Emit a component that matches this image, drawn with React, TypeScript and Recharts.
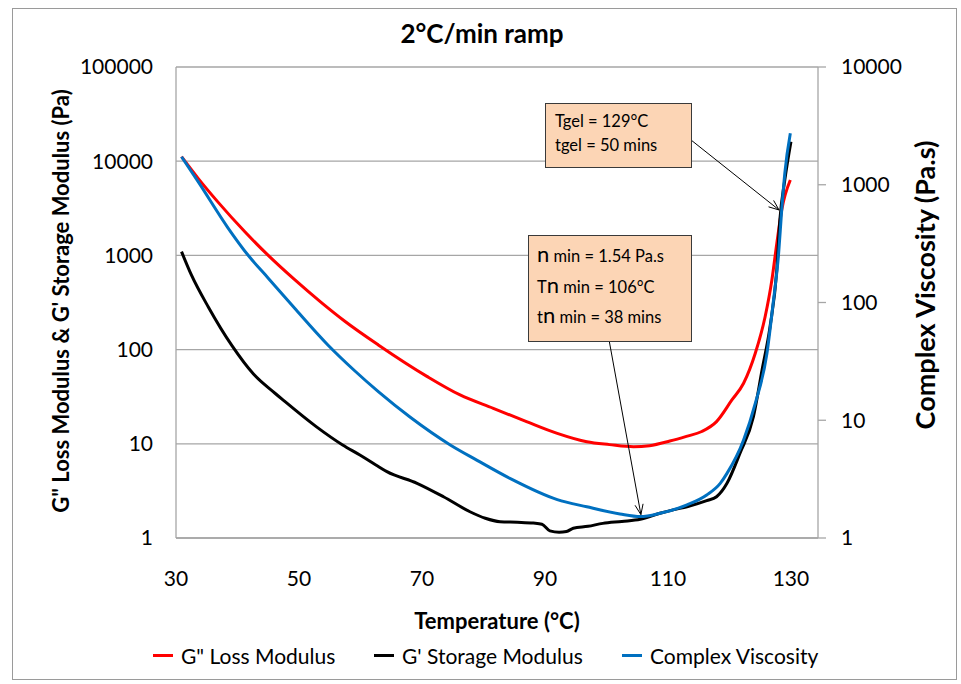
import { LineChart, Line, XAxis, YAxis, CartesianGrid, Legend, ReferenceLine } from 'recharts';

// temperature (°C)
const lossT = [30.9, 33.6, 36.8, 41.2, 45.0, 49.3, 53.6, 57.4, 62.9, 70.8, 76.2, 81.6, 87.0, 92.0, 96.8, 100.5, 104.4, 107.0, 110.3, 113.0, 115.5, 117.9, 120.4, 122.3, 124.2, 125.8, 126.9, 127.7, 128.5, 129.9];
const lossG = [11170, 6580, 3700, 1782, 1000, 552, 317, 201, 112, 52, 33.0, 23.8, 17.2, 12.9, 10.5, 9.8, 9.3, 9.55, 10.7, 12.0, 13.5, 17.2, 29.2, 43.9, 91.4, 223, 548, 1343, 3034, 6310];

const storageT = [30.9, 32.5, 35.3, 39.1, 42.6, 46.1, 47.4, 52.8, 57.1, 59.9, 62.5, 64.3, 69.2, 73.5, 77.8, 80.3, 82.7, 85.5, 88.1, 89.5, 90.8, 92.3, 93.5, 94.6, 97.0, 99.4, 102.5, 105.5, 108.7, 111.0, 113.1, 116.3, 117.9, 119.6, 121.7, 123.9, 125.3, 126.6, 127.7, 128.2, 129.0, 130.0];
const storageG = [1095, 620, 280, 110, 55, 34.4, 29.2, 15.2, 9.7, 7.6, 5.96, 5.06, 3.81, 2.74, 1.9, 1.62, 1.49, 1.47, 1.44, 1.4, 1.19, 1.15, 1.17, 1.27, 1.33, 1.43, 1.5, 1.58, 1.83, 2.0, 2.15, 2.49, 2.74, 3.81, 7.9, 19.4, 60.7, 175, 700, 2377, 6310, 16100];

const viscT = [30.9, 33.6, 38.5, 41.7, 45.0, 49.3, 54.7, 59.1, 62.9, 68.1, 74.6, 78.9, 84.3, 92.0, 96.8, 102.2, 105.5, 108.7, 113.1, 116.3, 118.5, 119.6, 122.3, 124.2, 126.1, 127.1, 128.0, 128.5, 129.0, 129.9];
const viscV = [1730, 1062, 427, 253, 161, 89.3, 43.6, 26.2, 17.5, 10.6, 6.17, 4.59, 3.21, 2.12, 1.84, 1.6, 1.52, 1.62, 1.91, 2.32, 2.91, 3.54, 6.8, 13.9, 37, 98, 262, 611, 1250, 2735];

const xTicks = [30, 50, 70, 90, 110, 130];
const modulusTicks = [1, 10, 100, 1000, 10000, 100000];
const viscTicks = [1, 10, 100, 1000, 10000];

const seriesNames = ['G" Loss Modulus', "G' Storage Modulus", 'Complex Viscosity'];
const gelNote = ['Tgel = 129°C', 'tgel = 50 mins'];
const minNote = [' min = 1.54 Pa.s', 'T', ' min = 106°C', 't', ' min = 38 mins'];

const toRows = (t: number[], v: number[]) => t.map((x, i) => ({ t: x, v: v[i] }));
const lossData = toRows(lossT, lossG);
const storageData = toRows(storageT, storageG);
const viscData = toRows(viscT, viscV);

const FONT = 'Lato, "Open Sans", sans-serif';
const GRID = '#a6a6a6';

const Arrow = (p: any) => {
  const { x1, y1, x2, y2 } = p;
  const a = Math.atan2(y2 - y1, x2 - x1);
  const len = 11;
  const s = 0.38;
  const h1 = `${x2 - len * Math.cos(a - s)},${y2 - len * Math.sin(a - s)}`;
  const h2 = `${x2 - len * Math.cos(a + s)},${y2 - len * Math.sin(a + s)}`;
  return (
    <g>
      <line x1={x1} y1={y1} x2={x2} y2={y2} stroke="#000" strokeWidth={1} />
      <polyline points={`${h1} ${x2},${y2} ${h2}`} fill="none" stroke="#000" strokeWidth={1} />
    </g>
  );
};

const legendOffsets = [0, 221, 469];

const renderLegend = (props: any) => {
  const items = [...(props.payload || [])].sort(
    (a: any, b: any) => seriesNames.indexOf(a.value) - seriesNames.indexOf(b.value)
  );
  return (
    <div style={{ position: 'relative', height: 26, fontFamily: FONT, fontSize: 21, color: '#000' }}>
      {items.map((entry: any, i: number) => (
        <div key={i} style={{ position: 'absolute', left: legendOffsets[i], top: 0, display: 'flex', alignItems: 'center', whiteSpace: 'nowrap' }}>
          <span style={{ display: 'inline-block', width: 20, height: 3, background: entry.color, marginRight: 8 }} />
          <span>{entry.value}</span>
        </div>
      ))}
    </div>
  );
};

export default function App() {
  return (
    <div style={{ position: 'absolute', left: 0, top: 0, width: 961, height: 684, background: '#fff' }}>
      <div style={{ position: 'absolute', left: 12, top: 8, width: 945, height: 672, border: '1px solid #9a9a9a', boxSizing: 'border-box' }} />
      <LineChart width={961} height={684} margin={{ top: 67, right: 63, left: 116, bottom: 106 }} style={{ position: 'absolute', left: 0, top: 0 }}>
        <CartesianGrid yAxisId="left" vertical={false} stroke={GRID} strokeWidth={1.3} />
        <XAxis
          dataKey="t"
          type="number"
          domain={[30, 134.4]}
          ticks={xTicks}
          allowDataOverflow
          height={40}
          axisLine={{ stroke: GRID, strokeWidth: 1.3 }}
          tickLine={false}
          tickSize={8}
          tickMargin={25}
          tick={{ fill: '#000', fontSize: 21, fontFamily: FONT }}
        />
        <YAxis
          yAxisId="left"
          scale="log"
          domain={[1, 100000]}
          ticks={modulusTicks}
          allowDataOverflow
          width={60}
          axisLine={{ stroke: GRID, strokeWidth: 1.3 }}
          tickLine={false}
          tickSize={6}
          tickMargin={17}
          tick={{ fill: '#000', fontSize: 21, fontFamily: FONT }}
        />
        <YAxis
          yAxisId="right"
          orientation="right"
          scale="log"
          domain={[1, 10000]}
          ticks={viscTicks}
          allowDataOverflow
          width={80}
          axisLine={{ stroke: GRID, strokeWidth: 1.3 }}
          tickLine={{ stroke: GRID, strokeWidth: 1.3 }}
          tickSize={8}
          tickMargin={15}
          tick={{ fill: '#000', fontSize: 21, fontFamily: FONT }}
        />
        <Legend
          layout="horizontal"
          verticalAlign="middle"
          content={renderLegend}
          wrapperStyle={{ left: 153, top: 643, width: 720, height: 26 }}
        />
        <Line yAxisId="left" data={lossData} dataKey="v" name={seriesNames[0]} type="monotone" stroke="#ff0000" strokeWidth={3} dot={false} isAnimationActive={false} />
        <Line yAxisId="left" data={storageData} dataKey="v" name={seriesNames[1]} type="monotone" stroke="#000000" strokeWidth={3} dot={false} isAnimationActive={false} />
        <Line yAxisId="right" data={viscData} dataKey="v" name={seriesNames[2]} type="monotone" stroke="#0070c0" strokeWidth={3} dot={false} isAnimationActive={false} />
        <ReferenceLine yAxisId="left" segment={[{ x: 113.75, y: 16800 }, { x: 128.07, y: 3034 }]} shape={Arrow} />
        <ReferenceLine yAxisId="right" segment={[{ x: 100.47, y: 46.5 }, { x: 105.6, y: 1.58 }]} shape={Arrow} />
      </LineChart>
      <svg width={961} height={684} style={{ position: 'absolute', left: 0, top: 0, pointerEvents: 'none', fontFamily: FONT }}>
        <text x={482} y={43} textAnchor="middle" fontSize={26} fontWeight="bold">2°C/min ramp</text>
        <text x={497} y={629} textAnchor="middle" fontSize={22} fontWeight="bold">Temperature (°C)</text>
        <text x={69} y={301} textAnchor="middle" fontSize={22} fontWeight="bold" transform="rotate(-90 69 301)">
          G" Loss Modulus &amp; G' Storage Modulus (Pa)
        </text>
        <text x={935} y={285} textAnchor="middle" fontSize={27} fontWeight="bold" transform="rotate(-90 935 285)">
          Complex Viscosity (Pa.s)
        </text>
        <rect x={545.5} y={103.5} width={146} height={64} fill="#fcd5b5" stroke="#3a3a3a" strokeWidth={1} />
        <text x={555} y={127} fontSize={16.5}>{gelNote[0]}</text>
        <text x={555} y={151} fontSize={16.5}>{gelNote[1]}</text>
        <rect x={528.5} y={235.5} width={163} height={106} fill="#fcd5b5" stroke="#3a3a3a" strokeWidth={1} />
        <text x={537} y={262} fontSize={16.5}><tspan fontSize={22}>n</tspan>{minNote[0]}</text>
        <text x={537} y={293} fontSize={16.5}>{minNote[1]}<tspan fontSize={22}>n</tspan>{minNote[2]}</text>
        <text x={537} y={323} fontSize={16.5}>{minNote[3]}<tspan fontSize={22}>n</tspan>{minNote[4]}</text>
      </svg>
    </div>
  );
}
